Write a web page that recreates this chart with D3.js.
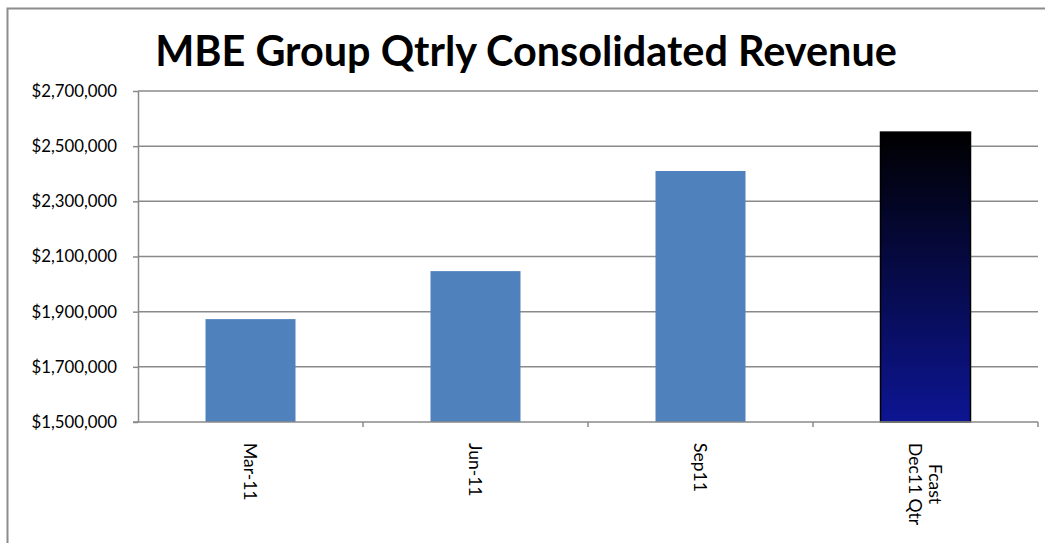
<!DOCTYPE html>
<html>
<head>
<meta charset="utf-8">
<script src="https://cdn.jsdelivr.net/npm/d3@7"></script>
<style>
  html, body { margin: 0; padding: 0; background: #fff; }
  svg { display: block; }
  text { font-family: Lato, "Open Sans", sans-serif; }
</style>
</head>
<body>
<svg id="chart" width="1045" height="543"></svg>
<script>
// chart data
var quarters = ["Mar-11", "Jun-11", "Sep11", "Fcast\nDec11 Qtr"];
var revenue = [1873000, 2047000, 2410000, 2551000];
var forecast = [false, false, false, true];
var yTicks = [1500000, 1700000, 1900000, 2100000, 2300000, 2500000, 2700000];
var chartTitle = "MBE Group Qtrly Consolidated Revenue";

var svg = d3.select("#chart"),
    margin = {top: 91, left: 138, right: 1038, bottom: 422};

var defs = svg.append("defs");
var grad = defs.append("linearGradient")
    .attr("id", "fcastGrad")
    .attr("x1", 0).attr("y1", 0).attr("x2", 0).attr("y2", 1);
grad.append("stop").attr("offset", "0%").attr("stop-color", "#000000");
grad.append("stop").attr("offset", "100%").attr("stop-color", "#0d1592");

// outer chart frame
svg.append("rect")
    .attr("x", 7.5).attr("y", 8.5)
    .attr("width", 1100).attr("height", 600)
    .attr("fill", "none")
    .attr("stroke", "#8c8c8c")
    .attr("stroke-width", 2);

var x = d3.scaleBand()
    .domain(quarters)
    .range([margin.left, margin.right])
    .paddingInner(0.6)
    .paddingOuter(0.3);

var y = d3.scaleLinear()
    .domain([1500000, 2700000])
    .range([margin.bottom, margin.top]);

var fmt = function(d) { return "$" + d3.format(",")(d); };

// gridlines
svg.append("g")
    .selectAll("line")
    .data(yTicks.slice(1))
    .enter().append("line")
    .attr("x1", margin.left).attr("x2", margin.right)
    .attr("y1", function(d) { return y(d); })
    .attr("y2", function(d) { return y(d); })
    .attr("stroke", "#8a8a8a")
    .attr("stroke-width", 1.5);

// y axis
var yAxis = svg.append("g")
    .attr("transform", "translate(" + margin.left + ",0)")
    .call(d3.axisLeft(y).tickValues(yTicks).tickFormat(fmt).tickSize(5).tickSizeOuter(0));
yAxis.select(".domain").attr("stroke", "#8a8a8a").attr("stroke-width", 1.5);
yAxis.selectAll(".tick line").attr("stroke", "#8a8a8a").attr("stroke-width", 1.5);
yAxis.selectAll(".tick text")
    .attr("x", -21)
    .attr("font-size", 16.8)
    .attr("fill", "#000")
    .style("font-family", "Lato, sans-serif");

// bars
svg.append("g")
    .selectAll("rect")
    .data(quarters)
    .enter().append("rect")
    .attr("x", function(d) { return x(d); })
    .attr("width", x.bandwidth())
    .attr("y", function(d, i) { return y(revenue[i]); })
    .attr("height", function(d, i) { return y(1500000) - y(revenue[i]); })
    .attr("fill", function(d, i) { return forecast[i] ? "url(#fcastGrad)" : "#4f81bd"; })
    .attr("stroke", function(d, i) { return forecast[i] ? "#000" : "none"; })
    .attr("stroke-width", 1.5);

// x axis line and category separators
var bounds = d3.range(quarters.length + 1).map(function(i) { return margin.left + i * (margin.right - margin.left) / quarters.length; });
svg.append("line")
    .attr("x1", margin.left - 5).attr("x2", margin.right)
    .attr("y1", margin.bottom).attr("y2", margin.bottom)
    .attr("stroke", "#8a8a8a").attr("stroke-width", 1.5);
svg.append("g").selectAll("line")
    .data(bounds.slice(1))
    .enter().append("line")
    .attr("x1", function(d) { return d; }).attr("x2", function(d) { return d; })
    .attr("y1", margin.bottom).attr("y2", margin.bottom + 5)
    .attr("stroke", "#8a8a8a").attr("stroke-width", 1.5);

// rotated category labels
quarters.forEach(function(q) {
    var lines = q.split("\n");
    var cx = x(q) + x.bandwidth() / 2;
    var g = svg.append("g")
        .attr("transform", "translate(" + cx + "," + 443 + ") rotate(90)");
    var t = g.append("text")
        .attr("font-size", 17.5)
        .attr("fill", "#000");
    var lh = 20;
    var offset = -(lines.length - 1) * lh / 2;
    var spans = lines.map(function(l, i) {
        return t.append("tspan").attr("y", offset + i * lh).attr("dy", "0.35em").text(l);
    });
    var maxW = d3.max(spans, function(s) { return s.node().getComputedTextLength(); });
    spans.forEach(function(s) {
        s.attr("x", maxW / 2).attr("text-anchor", "middle");
    });
});

// title
var title = svg.append("text")
    .attr("x", 526)
    .attr("y", 66)
    .attr("text-anchor", "middle")
    .attr("font-size", 38)
    .attr("font-weight", "bold")
    .attr("fill", "#000")
    .text(chartTitle);
var tw = title.node().getComputedTextLength();
title.attr("font-size", 38 * 742 / tw);
</script>
</body>
</html>
